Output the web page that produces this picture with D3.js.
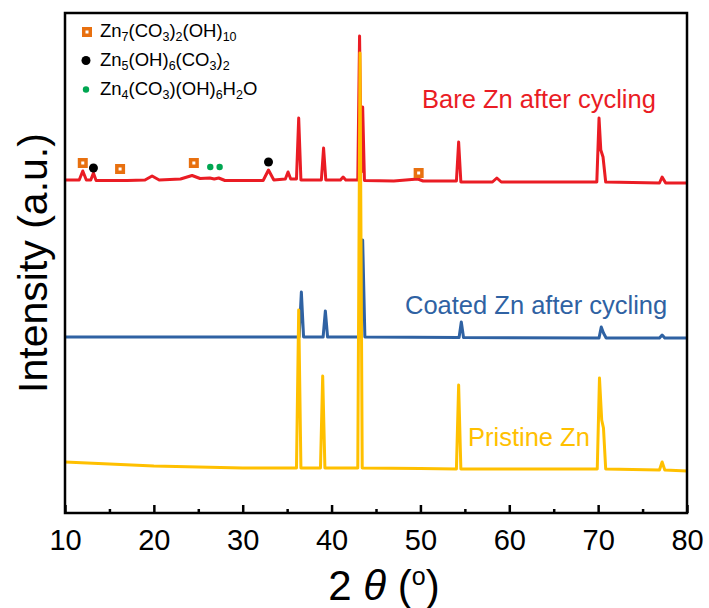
<!DOCTYPE html>
<html>
<head>
<meta charset="utf-8">
<script src="https://cdn.jsdelivr.net/npm/d3@7"></script>
<style>
  body { margin: 0; background: #fff; }
  text { font-family: Arial, "Liberation Sans", sans-serif; }
</style>
</head>
<body>
<div id="chart"></div>
<script>
// values (2 theta in degrees, intensity in a.u.)
var bareX = [10, 11.6, 12.0, 12.4, 12.9, 13.2, 13.5, 17.0, 19.0, 19.8, 20.6, 23.0, 24.3, 25.2, 26.3, 26.8, 27.3, 28.0,
  32.3, 32.9, 33.5, 34.8, 35.1, 35.4, 36.05, 36.3, 36.55, 38.85, 39.1, 39.35, 41.0, 41.3, 41.6, 42.95, 43.15, 43.35,
  43.5, 43.7, 47.0, 49.7, 50.3, 54.05, 54.3, 54.55, 58.1, 58.6, 59.1, 62.0, 69.85, 70.1, 70.3, 70.55, 70.85,
  76.9, 77.2, 77.6, 80];
var bareY = [666, 666, 684, 666, 666, 680, 665, 665, 666, 674, 666, 668, 675, 669, 670, 668, 670, 665,
  665, 686, 666, 668, 682, 668, 668, 790, 666, 666, 730, 666, 666, 672, 666, 666, 954, 682,
  812, 665, 664, 668, 664, 664, 742, 662, 662, 670, 662, 662, 662, 790, 726, 712, 662,
  660, 672, 660, 660];

var coatedX = [10, 36.35, 36.6, 36.85, 39.05, 39.3, 39.55, 43.3, 43.5, 43.75, 54.35, 54.6, 54.85,
  70.1, 70.35, 70.6, 70.9, 76.9, 77.2, 77.5, 80];
var coatedY = [352, 352, 442, 352, 352, 404, 352, 352, 546, 352, 351, 382, 351,
  350, 372, 360, 350, 350, 356, 350, 350];

var pristineX = [10, 15, 20, 25, 30, 36.05, 36.3, 36.55, 38.75, 39.0, 39.25, 42.95, 43.2, 43.45, 50,
  54.05, 54.3, 54.55, 60, 69.9, 70.15, 70.4, 70.6, 70.85, 76.9, 77.2, 77.5, 80];
var pristineY = [102, 98, 94, 92, 90, 90, 406, 90, 90, 274, 90, 90, 920, 90, 89,
  88, 256, 88, 88, 88, 270, 186, 170, 88, 86, 102, 86, 84];

// phase markers on the bare Zn pattern
var squareX = [12.0, 16.2, 24.5, 49.8];
var squareY = [700, 688, 700, 680];
var blackX = [13.2, 32.9];
var blackY = [690, 702];
var greenX = [26.35, 27.4];
var greenY = [692, 692];

var majorTicks = [10, 20, 30, 40, 50, 60, 70, 80];
var minorTicks = [15, 25, 35, 45, 55, 65, 75];

var svgWidth = 709;
var svgHeight = 608;

var margin = { top: 13, right: 22, bottom: 95, left: 65 };
var width = svgWidth - margin.left - margin.right;
var height = svgHeight - margin.top - margin.bottom;

var red = "#ea1c24";
var blue = "#2f62a3";
var yellow = "#ffc000";
var orange = "#e8700f";
var green = "#00a651";

var svg = d3.select("#chart")
  .append("svg")
  .attr("width", svgWidth)
  .attr("height", svgHeight);

var chartGroup = svg.append("g")
  .attr("transform", `translate(${margin.left}, ${margin.top})`);

var x = d3.scaleLinear().domain([10, 80]).range([0, width]);
var y = d3.scaleLinear().domain([0, 1000]).range([height, 0]);

var line = d3.line()
  .x(d => x(d[0]))
  .y(d => y(d[1]));

function pairs(xs, ys) {
  return xs.map((v, i) => [v, ys[i]]);
}

// draw red first, yellow last (it sits on top)
var series = [
  { xs: bareX, ys: bareY, color: red },
  { xs: coatedX, ys: coatedY, color: blue },
  { xs: pristineX, ys: pristineY, color: yellow }
];

series.forEach(s => {
  chartGroup.append("path")
    .datum(pairs(s.xs, s.ys))
    .attr("fill", "none")
    .attr("stroke", s.color)
    .attr("stroke-width", 3)
    .attr("stroke-linejoin", "round")
    .attr("d", line);
});

// markers
chartGroup.selectAll(".sq")
  .data(pairs(squareX, squareY))
  .enter()
  .append("rect")
  .attr("x", d => x(d[0]) - 5)
  .attr("y", d => y(d[1]) - 5)
  .attr("width", 10)
  .attr("height", 10)
  .attr("fill", orange);

chartGroup.selectAll(".sqin")
  .data(pairs(squareX, squareY))
  .enter()
  .append("rect")
  .attr("x", d => x(d[0]) - 1.5)
  .attr("y", d => y(d[1]) - 1.5)
  .attr("width", 3)
  .attr("height", 3)
  .attr("fill", "#fff");

chartGroup.selectAll(".bk")
  .data(pairs(blackX, blackY))
  .enter()
  .append("circle")
  .attr("cx", d => x(d[0]))
  .attr("cy", d => y(d[1]))
  .attr("r", 4.5)
  .attr("fill", "#000");

chartGroup.selectAll(".gr")
  .data(pairs(greenX, greenY))
  .enter()
  .append("circle")
  .attr("cx", d => x(d[0]))
  .attr("cy", d => y(d[1]))
  .attr("r", 3.2)
  .attr("fill", green);

// axes: ticks point inward
var bottomAxis = d3.axisBottom(x)
  .tickValues(majorTicks)
  .tickSizeInner(-8)
  .tickSizeOuter(0)
  .tickPadding(16)
  .tickFormat(d3.format("d"));

var minorAxis = d3.axisBottom(x)
  .tickValues(minorTicks)
  .tickSizeInner(-4)
  .tickSizeOuter(0)
  .tickFormat("");

var xAxis = chartGroup.append("g")
  .attr("transform", `translate(0, ${height})`)
  .call(bottomAxis);

chartGroup.append("g")
  .attr("transform", `translate(0, ${height})`)
  .call(minorAxis);

chartGroup.selectAll(".domain").remove();
chartGroup.selectAll(".tick line")
  .attr("stroke", "#000")
  .attr("stroke-width", 2.5);

xAxis.selectAll("text")
  .attr("fill", "#000")
  .style("font-size", "29px")
  .style("font-family", "Arial, 'Liberation Sans', sans-serif");

// frame
chartGroup.append("rect")
  .attr("x", 0)
  .attr("y", 0)
  .attr("width", width)
  .attr("height", height)
  .attr("fill", "none")
  .attr("stroke", "#000")
  .attr("stroke-width", 2.5);

// series labels
chartGroup.append("text")
  .attr("x", 422 - margin.left)
  .attr("y", 108 - margin.top)
  .attr("fill", red)
  .style("font-size", "25.5px")
  .text("Bare Zn after cycling");

chartGroup.append("text")
  .attr("x", 405 - margin.left)
  .attr("y", 314 - margin.top)
  .attr("fill", blue)
  .style("font-size", "25.5px")
  .text("Coated Zn after cycling");

chartGroup.append("text")
  .attr("x", 468 - margin.left)
  .attr("y", 446 - margin.top)
  .attr("fill", yellow)
  .style("font-size", "25.5px")
  .text("Pristine Zn");

// legend
var legendGroup = chartGroup.append("g")
  .attr("transform", `translate(${87 - margin.left}, ${37 - margin.top})`);

legendGroup.append("rect")
  .attr("x", -5).attr("y", -10).attr("width", 10).attr("height", 10)
  .attr("fill", orange);
legendGroup.append("rect")
  .attr("x", -1.5).attr("y", -6.5).attr("width", 3).attr("height", 3)
  .attr("fill", "#fff");
legendGroup.append("circle")
  .attr("cx", -1).attr("cy", 23.5).attr("r", 4.5).attr("fill", "#000");
legendGroup.append("circle")
  .attr("cx", -1).attr("cy", 52.5).attr("r", 3.2).attr("fill", green);

var formulas = [
  [["Zn", 0], ["7", 1], ["(CO", 0], ["3", 1], [")", 0], ["2", 1], ["(OH)", 0], ["10", 1]],
  [["Zn", 0], ["5", 1], ["(OH)", 0], ["6", 1], ["(CO", 0], ["3", 1], [")", 0], ["2", 1]],
  [["Zn", 0], ["4", 1], ["(CO", 0], ["3", 1], [")(OH)", 0], ["6", 1], ["H", 0], ["2", 1], ["O", 0]]
];

formulas.forEach((parts, i) => {
  var t = legendGroup.append("text")
    .attr("x", 13)
    .attr("y", i * 29)
    .attr("fill", "#000")
    .style("font-size", "18.5px");
  var low = false;
  parts.forEach(p => {
    var sub = p[1] === 1;
    var dy = 0;
    if (sub && !low) dy = 4;
    if (!sub && low) dy = -4;
    low = sub;
    t.append("tspan")
      .attr("dy", dy)
      .style("font-size", sub ? "12.5px" : "18.5px")
      .text(p[0]);
  });
});

// axis titles
svg.append("text")
  .attr("transform", `translate(47, ${margin.top + height / 2}) rotate(-90)`)
  .attr("text-anchor", "middle")
  .attr("fill", "#000")
  .style("font-size", "41px")
  .text("Intensity (a.u.)");

var xTitle = svg.append("text")
  .attr("x", 384)
  .attr("y", 600)
  .attr("text-anchor", "middle")
  .attr("fill", "#000")
  .style("font-size", "42px");
xTitle.append("tspan").text("2 ");
xTitle.append("tspan").style("font-style", "italic").text("θ");
xTitle.append("tspan").text(" (");
xTitle.append("tspan").attr("dy", -15).style("font-size", "25px").text("o");
xTitle.append("tspan").attr("dy", 15).text(")");
</script>
</body>
</html>
